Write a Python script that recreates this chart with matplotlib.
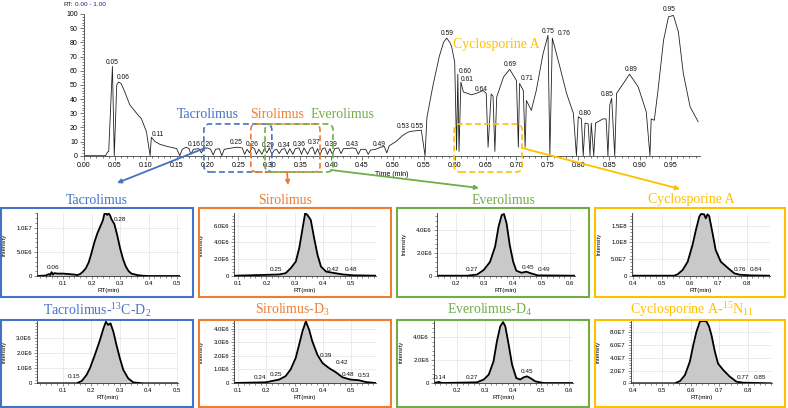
import numpy as np
import matplotlib
matplotlib.use('Agg')
import matplotlib.pyplot as plt
from matplotlib.patches import FancyBboxPatch, Rectangle, FancyArrowPatch
from matplotlib.ticker import MultipleLocator, AutoMinorLocator, FuncFormatter, FormatStrFormatter
from matplotlib.transforms import IdentityTransform

plt.rcParams['font.family'] = ['Liberation Sans', 'DejaVu Sans']
plt.rcParams['mathtext.fontset'] = 'custom'
plt.rcParams['mathtext.rm'] = 'Liberation Serif'

W, H = 788, 408

# ---- full scan, RT (min) vs relative abundance
tic_rt = [0.000, 0.035, 0.038, 0.040, 0.046, 0.049, 0.053, 0.056, 0.060, 0.066, 0.074, 0.085,
          0.093, 0.101, 0.107, 0.109, 0.115, 0.123, 0.135, 0.150, 0.155, 0.159, 0.165, 0.170,
          0.173, 0.177, 0.186, 0.190, 0.194, 0.200, 0.205, 0.209, 0.213, 0.219, 0.223, 0.227,
          0.240, 0.248, 0.256, 0.260, 0.264, 0.268, 0.272, 0.276, 0.279, 0.283, 0.288, 0.292,
          0.296, 0.300, 0.304, 0.308, 0.312, 0.316, 0.320, 0.325, 0.329, 0.333, 0.338, 0.342,
          0.348, 0.352, 0.356, 0.362, 0.366, 0.370, 0.374, 0.378, 0.382, 0.386, 0.390, 0.394,
          0.398, 0.402, 0.406, 0.412, 0.416, 0.420, 0.428, 0.434, 0.440, 0.444, 0.448, 0.456,
          0.460, 0.464, 0.472, 0.480, 0.486, 0.490, 0.494, 0.505, 0.515, 0.522, 0.527, 0.535,
          0.546, 0.552, 0.555, 0.565, 0.575, 0.582, 0.587, 0.592, 0.595, 0.600, 0.603, 0.605,
          0.607, 0.610, 0.614, 0.627, 0.635, 0.646, 0.651, 0.654, 0.659, 0.662, 0.665, 0.668,
          0.679, 0.689, 0.700, 0.703, 0.705, 0.711, 0.714, 0.716, 0.724, 0.732, 0.743, 0.751,
          0.754, 0.758, 0.770, 0.781, 0.792, 0.797, 0.800, 0.805, 0.808, 0.811, 0.816, 0.819,
          0.821, 0.825, 0.828, 0.840, 0.845, 0.848, 0.851, 0.854, 0.859, 0.862, 0.873, 0.883,
          0.897, 0.910, 0.916, 0.918, 0.923, 0.929, 0.938, 0.946, 0.954, 0.962, 0.970, 0.981,
          0.994]
tic_rel = [0, 0, 2.5, 3, 63, 0, 50, 52, 51, 45, 36, 30,
           26, 17, 0, 13, 10, 8, 6.5, 5, 0, 4.5, 6, 5,
           1, 4.5, 5, 2, 5, 5.5, 4.5, 0.5, 4.5, 5, 0, 4.5,
           5.5, 6, 5.5, 1, 4.5, 2, 6, 5, 1, 4.5, 1, 5,
           2, 5.5, 1, 4, 4.5, 1.5, 4.5, 5, 1, 5, 1, 5,
           5.5, 1, 5.5, 1, 5, 6, 1, 5, 0.5, 5, 5.5, 1,
           5, 1, 5, 5.5, 1.5, 5, 5, 5.5, 5, 1, 4.5, 4.5,
           1, 4, 4.5, 6, 6.5, 2, 7, 10, 14, 16, 17, 17.5,
           18, 0, 27, 50, 70, 80, 83, 80, 77, 66, 4, 57.5,
           3, 52, 45, 43, 44, 46, 44, 6, 43.5, 42, 3, 41.5,
           55.5, 61, 53, 6, 51, 46, 6, 39, 32, 46, 72, 85,
           0, 83, 63, 44, 30, 0, 27.5, 26, 0, 23, 22.5, 0,
           23, 0, 23, 26, 26, 0, 36, 40.5, 0, 44, 51, 57.5,
           48.5, 31, 0, 26, 25, 46, 81.5, 98, 99, 87.5, 58, 34.5,
           24]
tic_peak_text = ['0.05', '0.06', '0.11', '0.16', '0.20', '0.25', '0.26', '0.29', '0.34', '0.36',
                 '0.37', '0.39', '0.43', '0.49', '0.53', '0.55', '0.59', '0.60', '0.61', '0.64',
                 '0.69', '0.71', '0.75', '0.76', '0.80', '0.85', '0.89', '0.95']
tic_peak_rt = [0.046, 0.063, 0.120, 0.178, 0.199, 0.246, 0.273, 0.298, 0.324, 0.348,
               0.372, 0.400, 0.434, 0.477, 0.516, 0.540, 0.588, 0.617, 0.621, 0.643,
               0.690, 0.718, 0.751, 0.777, 0.811, 0.847, 0.885, 0.947]
tic_peak_rel = [66, 55.5, 15.3, 8, 8, 9, 8, 7.5, 7.5, 8,
                9, 8, 8, 8, 20.7, 20.7, 86, 59.7, 54, 47,
                64.7, 54.6, 88, 86.5, 29.6, 43.3, 60.6, 103]

# ---- compound windows on the full scan
compounds = ['Tacrolimus', 'Sirolimus', 'Everolimus', 'Cyclosporine A']
win_start = [0.194, 0.270, 0.293, 0.599]
win_end = [0.304, 0.382, 0.403, 0.709]
name_rt = [0.2006, 0.312, 0.419, 0.668]
name_rel = [29.4, 29.4, 29.4, 78.8]
colors = ['#4472C4', '#ED7D31', '#70AD47', '#FFC000']

# ---- extracted chromatograms (analytes)
tac_rt = [0.009, 0.04, 0.05, 0.055, 0.06, 0.065, 0.07, 0.08, 0.10, 0.12, 0.14, 0.15, 0.16,
          0.17, 0.18, 0.19, 0.20, 0.21, 0.22, 0.23, 0.24, 0.245, 0.25, 0.255, 0.26, 0.265,
          0.27, 0.28, 0.29, 0.30, 0.31, 0.32, 0.33, 0.34, 0.36, 0.38, 0.40, 0.51]
tac_int = [0, 0.1, 0.4, 0.2, 0.8, 0.3, 0.6, 0.5, 0.5, 0.4, 0.3, 0.2, 0.4,
           0.9, 1.6, 2.8, 4.8, 7.0, 8.8, 10.2, 11.6, 12.9, 13.0, 12.7, 13.0, 12.6,
           11.8, 10.8, 8.5, 5.8, 3.6, 2.0, 1.0, 0.5, 0.2, 0.05, 0, 0]  # x1e6
sir_rt = [0.085, 0.197, 0.245, 0.268, 0.286, 0.304, 0.316, 0.328, 0.337, 0.345, 0.357,
          0.369, 0.381, 0.393, 0.411, 0.435, 0.471, 0.506, 0.587]
sir_int = [0, 0.1, 0.15, 0.3, 0.9, 1.7, 3.3, 5.7, 7.5, 7.3, 6.7,
           4.5, 2.5, 1.1, 0.5, 0.35, 0.15, 0.05, 0]  # x1e6
eve_rt = [0.134, 0.24, 0.275, 0.298, 0.32, 0.338, 0.35, 0.361, 0.369, 0.378, 0.389,
          0.401, 0.412, 0.43, 0.447, 0.464, 0.487, 0.617]
eve_int = [0, 0, 0.1, 0.5, 1.2, 2.55, 4.3, 5.32, 5.41, 4.6, 2.7,
           1.23, 0.44, 0.26, 0.35, 0.2, 0.03, 0]  # x1e6
cyc_rt = [0.394, 0.544, 0.556, 0.574, 0.592, 0.609, 0.621, 0.633, 0.639, 0.65, 0.656,
          0.662, 0.668, 0.68, 0.691, 0.709, 0.733, 0.757, 0.775, 0.816, 0.883]
cyc_int = [0, 0, 0.04, 0.17, 0.42, 0.92, 1.37, 1.77, 1.85, 1.84, 1.72,
           1.84, 1.79, 1.27, 0.77, 0.42, 0.24, 0.07, 0.03, 0.01, 0]  # x1e8

# ---- extracted chromatograms (internal standards)
tac_is_rt = [0.009, 0.149, 0.167, 0.184, 0.196, 0.213, 0.231, 0.243, 0.252, 0.26,
             0.268, 0.278, 0.289, 0.301, 0.313, 0.33, 0.348, 0.383, 0.506]
tac_is_int = [0, 0, 0.15, 0.55, 1.0, 1.86, 2.85, 3.6, 4.05, 3.84,
              3.95, 3.4, 2.52, 1.64, 0.88, 0.33, 0.06, 0, 0]  # x1e6
sir_is_rt = [0.085, 0.197, 0.245, 0.268, 0.286, 0.304, 0.316, 0.328, 0.34, 0.352,
             0.363, 0.381, 0.399, 0.422, 0.446, 0.47, 0.499, 0.529, 0.553, 0.588]
sir_is_int = [0, 0.05, 0.25, 0.5, 1.0, 1.84, 2.8, 3.8, 4.53, 3.9,
              3.06, 2.08, 1.47, 1.1, 0.8, 0.42, 0.25, 0.2, 0.07, 0]  # x1e6
eve_is_rt = [0.117, 0.135, 0.147, 0.271, 0.295, 0.313, 0.33, 0.342, 0.354, 0.364, 0.372,
             0.384, 0.396, 0.411, 0.425, 0.437, 0.449, 0.461, 0.479, 0.508, 0.613]
eve_is_int = [0, 0.09, 0, 0.06, 0.3, 0.73, 1.88, 3.62, 4.93, 5.3, 4.93,
              3.33, 1.6, 0.43, 0.3, 0.49, 0.58, 0.43, 0.14, 0, 0]  # x1e6
cyc_is_rt = [0.391, 0.545, 0.563, 0.58, 0.597, 0.609, 0.62, 0.632, 0.644, 0.655,
             0.664, 0.672, 0.684, 0.695, 0.713, 0.736, 0.759, 0.782, 0.882]
cyc_is_int = [0, 0, 0.36, 1.3, 3.4, 6.0, 8.1, 9.7, 9.77, 9.7,
              8.9, 7.6, 5.0, 3.1, 2.1, 1.05, 0.26, 0.1, 0]  # x1e7

# peak labels of the small chromatograms (same units as the intensities above)
tac_pk = (['0.06', '0.28'], [0.064, 0.298], [1.8, 11.7])
sir_pk = (['0.25', '0.42', '0.48'], [0.233, 0.436, 0.499], [0.8, 0.8, 0.8])
eve_pk = (['0.27', '0.45', '0.49'], [0.256, 0.454, 0.51], [0.56, 0.73, 0.56])
cyc_pk = (['0.76', '0.84'], [0.777, 0.834], [0.19, 0.19])
tac_is_pk = (['0.15'], [0.14], [0.43])
sir_is_pk = (['0.24', '0.25', '0.39', '0.42', '0.48', '0.53'],
             [0.176, 0.233, 0.413, 0.467, 0.49, 0.546], [0.42, 0.61, 2.03, 1.52, 0.61, 0.54])
eve_is_pk = (['0.14', '0.27', '0.45'], [0.138, 0.253, 0.449], [0.49, 0.49, 1.0])
cyc_is_pk = (['0.77', '0.85'], [0.782, 0.842], [0.88, 0.88])

titles = ['Tacrolimus', 'Sirolimus', 'Everolimus', 'Cyclosporine A',
          r'Tacrolimus-$\mathregular{^{13}}$C-D$\mathregular{_2}$', r'Sirolimus-D$\mathregular{_3}$',
          r'Everolimus-D$\mathregular{_4}$', r'Cyclosporine A-$\mathregular{^{15}}$N$\mathregular{_{11}}$']


def rect(l, t, r, b):
    return [l / W, 1 - b / H, (r - l) / W, (b - t) / H]


def sci(v, pos):
    if v == 0:
        return '0'
    e = int(np.floor(np.log10(abs(v)) + 1e-9))
    return '%.1fE%d' % (v / 10 ** e, e)


fig = plt.figure(figsize=(W / 100, H / 100), dpi=100)

# ---------------- top: full scan
ax = fig.add_axes(rect(84, 14, 700, 155.7))
ax.plot(tic_rt, tic_rel, color='#222222', lw=0.6)
ax.set_xlim(0, 0.997)
ax.set_ylim(0, 100)
ax.xaxis.set_major_locator(MultipleLocator(0.05))
ax.xaxis.set_minor_locator(MultipleLocator(0.01))
ax.xaxis.set_major_formatter(FormatStrFormatter('%.2f'))
ax.yaxis.set_major_locator(MultipleLocator(10))
ax.yaxis.set_minor_locator(MultipleLocator(2))
for s in ['top', 'right']:
    ax.spines[s].set_visible(False)
for s in ['left', 'bottom']:
    ax.spines[s].set_linewidth(0.6)
    ax.spines[s].set_color('#444444')
ax.tick_params(which='both', labelsize=5, width=0.5, color='#444444', pad=1.5)
ax.tick_params(which='major', length=3)
ax.tick_params(which='minor', length=1.5)
ax.set_xlabel('Time (min)', fontsize=5)
ax.xaxis.set_label_coords(0.5, -0.108)
for s, t, v in zip(tic_peak_text, tic_peak_rt, tic_peak_rel):
    ax.text(t, v, s, ha='center', va='center', fontsize=4.8, color='#111111')
fig.text(64 / W, 1 - 4 / H, 'RT:', fontsize=4.6, va='center', color='#222222')
fig.text(75 / W, 1 - 4 / H, '0.00 - 1.00', fontsize=4.6, va='center', color='#1a237e')

for i, c in enumerate(compounds):
    x0 = ax.transData.transform((win_start[i], 22.4))
    x1 = ax.transData.transform((win_end[i], -11.5))
    box = FancyBboxPatch((x0[0], x1[1]), x1[0] - x0[0], x0[1] - x1[1],
                         boxstyle='round,pad=0,rounding_size=6', transform=IdentityTransform(),
                         fill=False, ec=colors[i], lw=1.2, ls=(0, (3.5, 2)))
    fig.add_artist(box)
    ax.text(name_rt[i], name_rel[i], c, ha='center', va='center', color=colors[i],
            family='Liberation Serif', fontsize=10)

# arrows from the windows to the extracted chromatograms
arrow_from = [(205, 148), (287, 172), (331, 170), (522, 148)]
arrow_to = [(117, 183), (288, 185), (479, 188), (680, 189)]
for i in range(4):
    a = FancyArrowPatch((arrow_from[i][0], H - arrow_from[i][1]), (arrow_to[i][0], H - arrow_to[i][1]),
                        arrowstyle='-|>', mutation_scale=6, transform=IdentityTransform(),
                        color=colors[i], lw=1.3, shrinkA=0, shrinkB=0)
    fig.add_artist(a)

# ---------------- bottom: 4 x 2 extracted chromatograms
panels = [
    (tac_rt, tac_int, 1e6, tac_pk, (0.009, 0.51), 13.1e6, [0, 5e6, 1e7]),
    (sir_rt, sir_int, 1e6, sir_pk, (0.085, 0.587), 7.5e6, [0, 2e6, 4e6, 6e6]),
    (eve_rt, eve_int, 1e6, eve_pk, (0.134, 0.617), 5.5e6, [0, 2e6, 4e6]),
    (cyc_rt, cyc_int, 1e8, cyc_pk, (0.394, 0.883), 1.88e8, [0, 5e7, 1e8, 1.5e8]),
    (tac_is_rt, tac_is_int, 1e6, tac_is_pk, (0.009, 0.506), 4.1e6, [0, 1e6, 2e6, 3e6]),
    (sir_is_rt, sir_is_int, 1e6, sir_is_pk, (0.085, 0.588), 4.58e6, [0, 1e6, 2e6, 3e6, 4e6]),
    (eve_is_rt, eve_is_int, 1e6, eve_is_pk, (0.117, 0.613), 5.42e6, [0, 2e6, 4e6]),
    (cyc_is_rt, cyc_is_int, 1e7, cyc_is_pk, (0.391, 0.882), 9.77e7, [0, 2e7, 4e7, 6e7, 8e7]),
]
axes_px = [(37, 213, 180, 276), (234, 213.3, 375.7, 275.7), (436.7, 213, 575, 275.7),
           (631.7, 213, 770, 275.7), (36.7, 321, 178.3, 383.3), (234, 320.7, 375.7, 383),
           (433.7, 320.7, 573, 383), (630.7, 321, 771.7, 383.3)]
box_x = [(1, 193), (199, 391), (397, 589), (595, 785)]
box_y = [(208, 297), (320, 407)]
title_x = [97, 285, 503, 691, 97.5, 292.5, 490, 692]
title_y = [200, 310]

for k, (rt, inten, sc, pk, xl, ytop, yt) in enumerate(panels):
    row, col = divmod(k, 4)
    l, t, r, b = axes_px[k]
    a = fig.add_axes(rect(l, t, r, b))
    y = np.array(inten) * sc
    a.fill_between(rt, y, color='#c9c9c9', lw=0)
    a.plot(rt, y, color='black', lw=1.3, solid_joinstyle='round')
    a.set_xlim(*xl)
    a.set_ylim(0, ytop)
    a.set_yticks(yt)
    a.xaxis.set_major_locator(MultipleLocator(0.1))
    a.xaxis.set_minor_locator(AutoMinorLocator(5))
    a.yaxis.set_minor_locator(AutoMinorLocator(5))
    a.yaxis.set_major_formatter(FuncFormatter(sci))
    a.xaxis.set_major_formatter(FuncFormatter(lambda v, p: '%g' % round(v, 2)))
    a.grid(True, which='major', color='#e3e3e3', lw=0.5)
    a.set_axisbelow(True)
    for s in ['top', 'right']:
        a.spines[s].set_visible(False)
    for s in ['left', 'bottom']:
        a.spines[s].set_linewidth(0.6)
        a.spines[s].set_color('#333333')
    a.tick_params(which='both', labelsize=4.3, width=0.4, color='#333333', pad=1)
    a.tick_params(which='major', length=2.5)
    a.tick_params(which='minor', length=1.2)
    a.set_xlabel('RT(min)', fontsize=4.5)
    a.xaxis.set_label_coords(0.5, -12 / (b - t))
    a.set_ylabel('Intensity', fontsize=4.2)
    a.yaxis.set_label_coords(-30 / (r - l), 0.5)
    for s, px, py in zip(*pk):
        a.text(px, py * sc, s, ha='center', va='center', fontsize=4.6, color='#111111')

    bx0, bx1 = box_x[col]
    by0, by1 = box_y[row]
    fig.add_artist(Rectangle((bx0 / W, 1 - by1 / H), (bx1 - bx0) / W, (by1 - by0) / H,
                             transform=fig.transFigure, fill=False, ec=colors[col], lw=1.5))
    fig.text(title_x[k] / W, 1 - title_y[row] / H, titles[k], ha='center', va='center',
             color=colors[col], family='Liberation Serif', fontsize=10)

fig.savefig('out.png', dpi=100)
